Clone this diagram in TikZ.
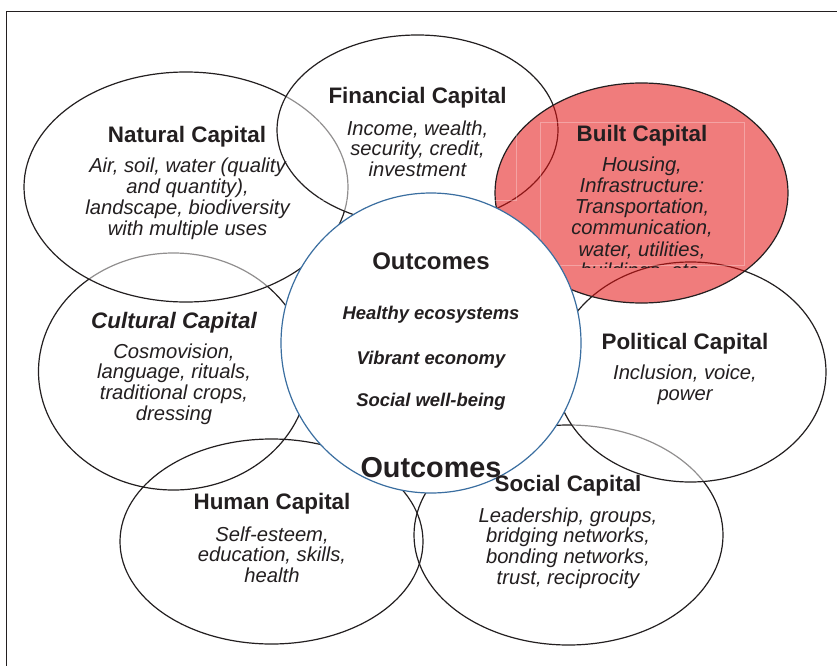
\documentclass[tikz,border=0pt]{standalone}
\usepackage{fontspec}
\setmainfont{Liberation Sans}
\definecolor{ink}{RGB}{35,31,32}
\definecolor{builtred}{RGB}{228,17,17}
\definecolor{ringblue}{RGB}{58,110,160}

\begin{document}
\begin{tikzpicture}[x=1pt,y=-1pt,
		capital/.style={draw=ink, line width=1.2pt, fill=white, fill opacity=0.5},
		heading/.style={text=ink, anchor=base, inner sep=0pt, font=\fontsize{22.4}{24}\selectfont\bfseries},
		items/.style={text=ink, align=center, inner sep=0pt, font=\fontsize{20.2}{20.7}\selectfont\itshape},
		goal/.style={text=ink, inner sep=0pt, font=\fontsize{18.4}{20}\selectfont\bfseries\itshape}]
				\useasboundingbox (0,0) rectangle (837,666);
				\fill[white] (0,0) rectangle (837,666);
				
				% frame
				\draw[ink, line width=1pt] (837,12) -- (6,12) -- (6,666);
				
				% capitals, back to front
				\draw[capital] (568.5,535) ellipse [x radius=154.5pt, y radius=110pt];
				\draw[capital] (173.5,371.5) ellipse [x radius=135pt, y radius=118.5pt];
				\draw[draw=ink, line width=1.2pt] (271.5,541.5) ellipse [x radius=151.5pt, y radius=102.5pt];
				\draw[capital] (186,187) ellipse [x radius=162pt, y radius=115pt];
				\draw[capital] (417.5,130) ellipse [x radius=140.5pt, y radius=95pt];
				\draw[capital] (690.5,372) ellipse [x radius=135.5pt, y radius=110pt];
				\draw[draw=ink, line width=1.2pt, fill=builtred, fill opacity=0.55] (641.5,193) ellipse [x radius=146.5pt, y radius=110pt];
				
				% text box edges left in the slide
				\draw[white, opacity=0.3, line width=0.8pt] (540,122) rectangle (744,265);
				\draw[white, opacity=0.3, line width=0.8pt] (319,75) rectangle (516,200);
				
				% outcomes in the middle
				\draw[ringblue, line width=1.2pt, fill=white] (431,343) circle [radius=150pt];
				
				\node[heading] (financial) at (417.5,103) {Financial Capital};
				\node[items] (financial-items) at (417.5,148.5) {Income, wealth,\\security, credit,\\investment};
				
				\node[heading] (natural) at (187,142) {Natural Capital};
				\node[items, font=\fontsize{20.2}{21}\selectfont\itshape] (natural-items) at (187.5,198.5) {Air, soil, water (quality\\and quantity),\\landscape, biodiversity\\with multiple uses};
				
				\node[heading] (built) at (642,141) {Built Capital};
				\begin{scope}
					\clip (490,100) rectangle (790,267);
					\node[items, font=\fontsize{20.2}{21.2}\selectfont\itshape] (built-items) at (642,219) {Housing,\\Infrastructure:\\Transportation,\\communication,\\water, utilities,\\buildings, etc.};
				\end{scope}
				
				\node[heading, font=\fontsize{22.4}{24}\selectfont\bfseries\itshape] (cultural) at (174,328) {Cultural Capital};
				\node[items] (cultural-items) at (174,384) {Cosmovision,\\language, rituals,\\traditional crops,\\dressing};
				
				\node[heading] (political) at (685,349) {Political Capital};
				\node[items] (political-items) at (685,384.5) {Inclusion, voice,\\power};
				
				\node[heading] (human) at (272,509) {Human Capital};
				\node[items] (human-items) at (272,554.5) {Self-esteem,\\education, skills,\\health};
				
				\node[heading] (social) at (568,491) {Social Capital};
				\node[items] (social-items) at (568,548) {Leadership, groups,\\bridging networks,\\bonding networks,\\trust, reciprocity};
				
				\node[heading, font=\fontsize{24}{26}\selectfont\bfseries] (outcomes) at (431,269) {Outcomes};
				\node[goal] (ecosystems) at (431,315) {Healthy ecosystems};
				\node[goal] (economy) at (431,360) {Vibrant economy};
				\node[goal] (wellbeing) at (431,402) {Social well-being};
				\node[heading, font=\fontsize{28.8}{30}\selectfont\bfseries] (outcomes-low) at (431,477) {Outcomes};
			\end{tikzpicture}
\end{document}
